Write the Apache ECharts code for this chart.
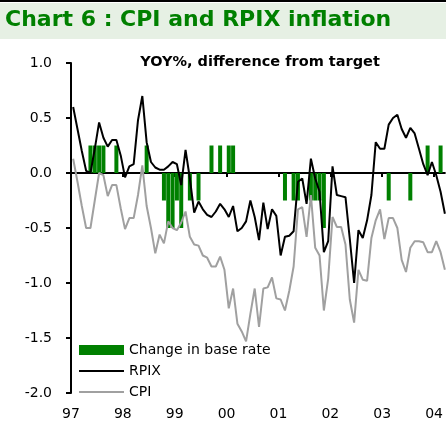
<html>
<head>
<meta charset="utf-8">
<title>Chart 6 : CPI and RPIX inflation</title>
<script src="https://cdn.jsdelivr.net/npm/echarts@6/dist/echarts.min.js"></script>
<style>
  body { margin: 0; padding: 0; background: #fff; }
  #main { width: 446px; height: 433px; }
</style>
</head>
<body>
<div id="main"></div>
<script type="text/javascript">
    // monthly, Jan 1997 .. Mar 2004, percentage points from target
    var rpix = [
        0.60, 0.40, 0.20, 0.02, 0.00, 0.22, 0.46, 0.32, 0.24, 0.30, 0.30, 0.16,
        -0.04, 0.06, 0.08, 0.48, 0.70, 0.28, 0.10, 0.05, 0.03, 0.03, 0.06, 0.10,
        0.08, -0.11, 0.21, -0.05, -0.36, -0.26, -0.33, -0.38, -0.40, -0.35, -0.28, -0.33,
        -0.40, -0.30, -0.53, -0.50, -0.44, -0.25, -0.40, -0.61, -0.27, -0.51, -0.33, -0.39,
        -0.75, -0.58, -0.57, -0.53, -0.08, -0.05, -0.28, 0.13, -0.05, -0.17, -0.72, -0.62,
        0.06, -0.20, -0.21, -0.22, -0.60, -1.00, -0.52, -0.59, -0.43, -0.20, 0.28, 0.22,
        0.22, 0.44, 0.50, 0.53, 0.40, 0.32, 0.41, 0.36, 0.22, 0.08, -0.02, 0.10,
        -0.02, -0.17, -0.37
    ];
    var cpi = [
        0.13, -0.08, -0.30, -0.50, -0.50, -0.25, 0.00, -0.02, -0.21, -0.11, -0.11, -0.32,
        -0.51, -0.41, -0.41, -0.20, 0.07, -0.30, -0.50, -0.73, -0.56, -0.64, -0.44, -0.50,
        -0.52, -0.45, -0.35, -0.58, -0.65, -0.66, -0.75, -0.77, -0.85, -0.85, -0.76, -0.88,
        -1.23, -1.05, -1.37, -1.44, -1.53, -1.28, -1.05, -1.40, -1.05, -1.04, -0.95, -1.14,
        -1.15, -1.25, -1.07, -0.85, -0.33, -0.31, -0.58, -0.20, -0.68, -0.75, -1.25, -0.96,
        -0.40, -0.49, -0.49, -0.65, -1.15, -1.36, -0.88, -0.97, -0.98, -0.59, -0.43, -0.33,
        -0.60, -0.41, -0.41, -0.50, -0.79, -0.90, -0.68, -0.62, -0.62, -0.63, -0.72, -0.72,
        -0.62, -0.72, -0.88
    ];
    var baseRate = [
        0, 0, 0, 0, 0.25, 0.25, 0.25, 0.25, 0, 0, 0.25, 0,
        0, 0, 0, 0, 0, 0.25, 0, 0, 0, -0.25, -0.5, -0.5,
        -0.25, -0.5, 0, -0.25, 0, -0.25, 0, 0, 0.25, 0, 0.25, 0,
        0.25, 0.25, 0, 0, 0, 0, 0, 0, 0, 0, 0, 0,
        0, -0.25, 0, -0.25, -0.25, 0, 0, -0.25, -0.25, -0.25, -0.5, 0,
        0, 0, 0, 0, 0, 0, 0, 0, 0, 0, 0, 0,
        0, -0.25, 0, 0, 0, 0, -0.25, 0, 0, 0, 0.25, 0,
        0, 0.25, 0
    ];
    var yearTicks = [0, 12, 24, 36, 48, 60, 72, 84];
    var firstYear = 97;

    var font = 'DejaVu Sans';
    // thin line legend icon (the dots at top/bottom keep the box 10px high)
    var lineIcon = 'path://M0,0h0.01v0.01h-0.01Z M0,4h45v2h-45Z M0,10h0.01v0.01h-0.01Z';

    function toPoints(arr) {
        return arr.map(function (v, i) { return [i + 0.5, v]; });
    }

    function yearLabel(v) {
        var y = (firstYear + Math.round(v / 12)) % 100;
        return (y < 10 ? '0' : '') + y;
    }

    var myChart = echarts.init(document.getElementById('main'));

    var option = {
        animation: false,
        backgroundColor: '#fff',
        graphic: [
            { type: 'rect', shape: { x: 0, y: 0, width: 446, height: 2 }, style: { fill: '#000' } },
            { type: 'rect', shape: { x: 0, y: 3, width: 446, height: 36 }, style: { fill: '#e6f0e4' } }
        ],
        title: [
            {
                text: 'Chart 6 : CPI and RPIX inflation',
                left: 5,
                top: 9,
                padding: 0,
                textStyle: { color: '#008000', fontSize: 22, fontWeight: 'bold', fontFamily: font }
            },
            {
                text: 'YOY%, difference from target',
                left: 260,
                top: 55,
                padding: 0,
                textAlign: 'center',
                textStyle: { color: '#000', fontSize: 14.5, fontWeight: 'bold', fontFamily: font }
            }
        ],
        legend: {
            orient: 'vertical',
            left: 79,
            top: 343,
            padding: 0,
            itemWidth: 45,
            itemHeight: 10,
            itemGap: 7,
            textStyle: { fontSize: 14, color: '#000', fontFamily: font },
            data: [
                { name: 'Change in base rate', icon: 'rect' },
                { name: 'RPIX', icon: lineIcon, itemStyle: { borderWidth: 0 } },
                { name: 'CPI', icon: lineIcon, itemStyle: { borderWidth: 0 } }
            ]
        },
        grid: { left: 71, right: 0, top: 63, bottom: 40 },
        xAxis: [
            {
                type: 'value',
                min: 0,
                max: 86.5,
                axisLine: { onZero: true, lineStyle: { color: '#000', width: 2 } },
                axisTick: { show: true, length: 4, customValues: yearTicks, lineStyle: { color: '#000', width: 2 } },
                axisLabel: { show: false },
                splitLine: { show: false }
            },
            {
                type: 'value',
                position: 'bottom',
                min: 0,
                max: 86.5,
                axisLine: { show: false, onZero: false },
                axisTick: { show: false },
                axisLabel: {
                    show: true,
                    margin: 14,
                    customValues: yearTicks,
                    formatter: yearLabel,
                    color: '#000',
                    fontSize: 14,
                    fontFamily: font
                },
                splitLine: { show: false }
            }
        ],
        yAxis: {
            type: 'value',
            min: -2,
            max: 1,
            interval: 0.5,
            axisLine: { show: true, lineStyle: { color: '#000', width: 2 } },
            axisTick: { show: true, length: 5, lineStyle: { color: '#000', width: 2 } },
            axisLabel: {
                margin: 19,
                color: '#000',
                fontSize: 14,
                fontFamily: font,
                formatter: function (v) { return v.toFixed(1); }
            },
            splitLine: { show: false }
        },
        series: [
            {
                name: 'Change in base rate',
                type: 'bar',
                xAxisIndex: 0,
                barWidth: 4,
                itemStyle: { color: '#008000' },
                data: toPoints(baseRate)
            },
            {
                name: 'RPIX',
                type: 'line',
                xAxisIndex: 0,
                symbol: 'none',
                z: 4,
                lineStyle: { color: '#000', width: 2 },
                itemStyle: { color: '#000' },
                data: toPoints(rpix)
            },
            {
                name: 'CPI',
                type: 'line',
                xAxisIndex: 0,
                symbol: 'none',
                z: 3,
                lineStyle: { color: '#a0a0a0', width: 2 },
                itemStyle: { color: '#a0a0a0' },
                data: toPoints(cpi)
            }
        ]
    };

    myChart.setOption(option);
</script>
</body>
</html>
